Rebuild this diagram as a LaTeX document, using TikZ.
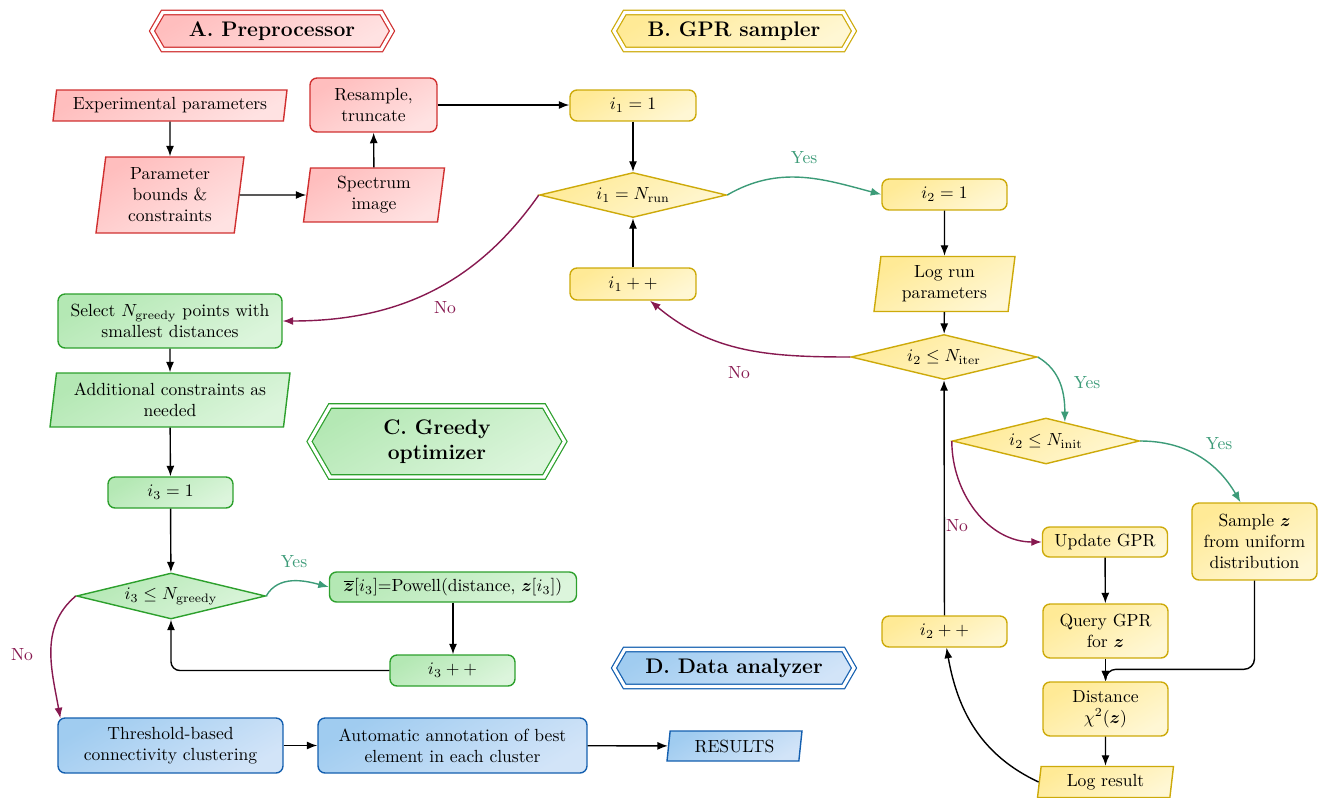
\documentclass[tikz,border=0pt]{standalone}
\usepackage{amsmath,amssymb,bm}
\usetikzlibrary{shapes.geometric,shapes.symbols,arrows.meta,calc}
\definecolor{rD}{RGB}{208,48,48}
\definecolor{rA}{RGB}{255,190,190}
\definecolor{rB}{RGB}{255,226,226}
\definecolor{yD}{RGB}{205,170,10}
\definecolor{yA}{RGB}{255,234,150}
\definecolor{yB}{RGB}{255,247,212}
\definecolor{gD}{RGB}{45,160,45}
\definecolor{gA}{RGB}{180,232,180}
\definecolor{gB}{RGB}{220,245,220}
\definecolor{bD}{RGB}{20,95,175}
\definecolor{bA}{RGB}{160,204,240}
\definecolor{bB}{RGB}{210,228,248}
\definecolor{yesC}{RGB}{60,155,120}
\definecolor{noC}{RGB}{135,25,80}
\tikzset{
  box/.style={draw, line width=0.8pt, align=center, inner sep=2pt},
  rbox/.style={box, rectangle, rounded corners=4pt},
  para/.style={box, trapezium, trapezium left angle=81, trapezium right angle=99, trapezium stretches body},
  dia/.style={box, diamond, aspect=4, inner sep=1pt},
  ttl/.style={signal, signal to=east and west, signal pointer angle=120, double=white, double distance=1.8pt, line width=0.7pt, font=\large\bfseries, align=center},
  redfill/.style={draw=rD, top color=rA, bottom color=rB, shading angle=30},
  yelfill/.style={draw=yD, top color=yA, bottom color=yB, shading angle=30},
  grnfill/.style={draw=gD, top color=gA, bottom color=gB, shading angle=30},
  blufill/.style={draw=bD, top color=bA, bottom color=bB, shading angle=30},
  arr/.style={line width=0.8pt, -{Latex[length=6pt,width=4.6pt]}},
  yesarr/.style={arr, color=yesC},
  noarr/.style={arr, color=noC},
  yeslab/.style={text=yesC, inner sep=1pt},
  nolab/.style={text=noC, inner sep=1pt},
}
\begin{document}
\begin{tikzpicture}[x=0.02cm,y=0.02cm]
\useasboundingbox (0,0) rectangle (1320,-798);
% titles
\node[ttl, redfill, minimum width=4.8cm, minimum height=0.74cm] (tA) at (272,-31) {A. Preprocessor};
\node[ttl, yelfill, minimum width=4.8cm, minimum height=0.74cm] (tB) at (734,-31) {B. GPR sampler};
\node[ttl, grnfill, minimum width=5.1cm, minimum height=1.42cm] (tC) at (437,-441.5) {C. Greedy\\optimizer};
\node[ttl, blufill, minimum width=4.8cm, minimum height=0.74cm] (tD) at (734,-668) {D. Data analyzer};
% A. preprocessor
\node[para, redfill, minimum width=4.68cm, minimum height=0.62cm] (exp) at (170,-105.5) {Experimental parameters};
\node[para, redfill, minimum width=2.96cm, minimum height=1.52cm] (par) at (170,-195) {Parameter\\bounds \&\\constraints};
\node[para, redfill, minimum width=2.82cm, minimum height=1.08cm] (spec) at (374,-195) {Spectrum\\image};
\node[rbox, redfill, minimum width=2.54cm, minimum height=1.08cm] (resm) at (373.5,-105) {Resample,\\truncate};
% B. GPR sampler
\node[rbox, yelfill, minimum width=2.52cm, minimum height=0.62cm] (i11) at (633,-105.5) {$i_1 = 1$};
\node[dia, yelfill, minimum width=3.74cm, minimum height=0.9cm] (d1) at (633,-195) {$i_1 = N_{\mathrm{run}}$};
\node[rbox, yelfill, minimum width=2.52cm, minimum height=0.64cm] (i1pp) at (633,-284) {$i_1++$};
\node[rbox, yelfill, minimum width=2.5cm, minimum height=0.62cm] (i21) at (944.5,-194.5) {$i_2 = 1$};
\node[para, yelfill, minimum width=2.82cm, minimum height=1.1cm] (logrun) at (944.5,-284) {Log run\\parameters};
\node[dia, yelfill, minimum width=3.72cm, minimum height=0.9cm] (d2) at (944,-357) {$i_2 \leq N_{\mathrm{iter}}$};
\node[dia, yelfill, minimum width=3.74cm, minimum height=0.92cm] (d3) at (1046,-441) {$i_2 \leq N_{\mathrm{init}}$};
\node[rbox, yelfill, minimum width=2.5cm, minimum height=0.6cm] (upd) at (1105,-542) {Update GPR};
\node[rbox, yelfill, minimum width=2.5cm, minimum height=1.54cm] (samp) at (1254.5,-541.5) {Sample $\boldsymbol{z}$\\from uniform\\distribution};
\node[rbox, yelfill, minimum width=2.5cm, minimum height=1.08cm] (query) at (1105.5,-631) {Query GPR\\for $\boldsymbol{z}$};
\node[rbox, yelfill, minimum width=2.5cm, minimum height=1.08cm] (dist) at (1105.5,-709) {Distance\\$\chi^2(\boldsymbol{z})$};
\node[para, yelfill, minimum width=2.72cm, minimum height=0.62cm] (logres) at (1105.5,-782) {Log result};
\node[rbox, yelfill, minimum width=2.5cm, minimum height=0.62cm] (i2pp) at (944.5,-631.5) {$i_2++$};
% C. greedy optimizer
\node[rbox, grnfill, minimum width=4.48cm, minimum height=1.08cm] (sel) at (170,-321) {Select $N_{\mathrm{greedy}}$ points with\\smallest distances};
\node[para, grnfill, minimum width=4.8cm, minimum height=1.08cm] (add) at (170,-400) {Additional constraints as\\needed};
\node[rbox, grnfill, minimum width=2.5cm, minimum height=0.62cm] (i31) at (170.5,-492.5) {$i_3 = 1$};
\node[dia, grnfill, minimum width=3.78cm, minimum height=0.92cm] (d4) at (171,-596) {$i_3 \leq N_{\mathrm{greedy}}$};
\node[rbox, grnfill, minimum width=4.94cm, minimum height=0.6cm] (pow) at (453,-587) {$\overline{\boldsymbol{z}}[i_3]$=Powell(distance, $\boldsymbol{z}[i_3]$)};
\node[rbox, grnfill, minimum width=2.5cm, minimum height=0.62cm] (i3pp) at (452.5,-670.5) {$i_3++$};
% D. data analyzer
\node[rbox, blufill, minimum width=4.5cm, minimum height=1.1cm] (thr) at (170.5,-745.5) {Threshold-based\\connectivity clustering};
\node[rbox, blufill, minimum width=5.38cm, minimum height=1.1cm] (auto) at (452.5,-745.5) {Automatic annotation of best\\element in each cluster};
\node[para, blufill, minimum width=2.7cm, minimum height=0.6cm] (res) at (734.5,-746) {RESULTS};
% connectors A
\draw[arr] (exp) -- (par);
\draw[arr] (par) -- (spec);
\draw[arr] (spec) -- (resm);
\draw[arr] (resm.east) -- (resm.east -| i11.west);
% connectors B
\draw[arr] (i11) -- (d1);
\draw[arr] (i1pp) -- (d1);
\draw[yesarr] (d1.east) to[out=30,in=165] (i21.west);
\draw[noarr] (d1.west) to[out=-125,in=0] (sel.east);
\draw[arr] (i21) -- (logrun);
\draw[arr] (logrun) -- (d2);
\draw[noarr] (d2.west) to[out=180,in=-40] ($(i1pp.south)+(17,0)$);
\draw[yesarr] (d2.east) to[out=-30,in=90] ($(d3.north)!0.2!(d3.east)$);
\draw[yesarr] (d3.east) to[out=0,in=120] ($(samp.north)+(-14,0)$);
\draw[noarr] (d3.west) to[out=-90,in=180] (upd.west);
\draw[arr] (upd) -- (query);
\draw[arr] (query) -- (dist);
\draw[arr, rounded corners=6pt] (samp.south) |- ($(dist.north)+(0,12)$) -- (dist.north);
\draw[arr] (dist) -- (logres);
\draw[arr] (logres.west) to[out=155,in=-80] ($(i2pp.south)+(2,0)$);
\draw[arr] (i2pp) -- (d2);
% connectors C
\draw[arr] (sel) -- (add);
\draw[arr] (add) -- (i31);
\draw[arr] (i31) -- (d4);
\draw[yesarr] (d4.east) to[out=60,in=165] (pow.west);
\draw[arr] (pow) -- (pow |- i3pp.north);
\draw[arr, rounded corners=5pt] (i3pp.west) -| (d4.south);
\draw[noarr] (d4.west) to[out=220,in=100] ($(thr.north west)+(3,-1)$);
% connectors D
\draw[arr] (thr) -- (auto);
\draw[arr] (auto) -- (res);
% labels
\node[yeslab] (ly1) at (804,-158) {Yes};
\node[nolab] (ln1) at (445,-308) {No};
\node[nolab] (ln2) at (739,-373) {No};
\node[yeslab] (ly2) at (1087,-383) {Yes};
\node[yeslab] (ly3) at (1219,-444) {Yes};
\node[nolab] (ln3) at (957,-526) {No};
\node[yeslab] (ly4) at (294,-562) {Yes};
\node[nolab] (ln4) at (22,-655) {No};
\end{tikzpicture}
\end{document}
